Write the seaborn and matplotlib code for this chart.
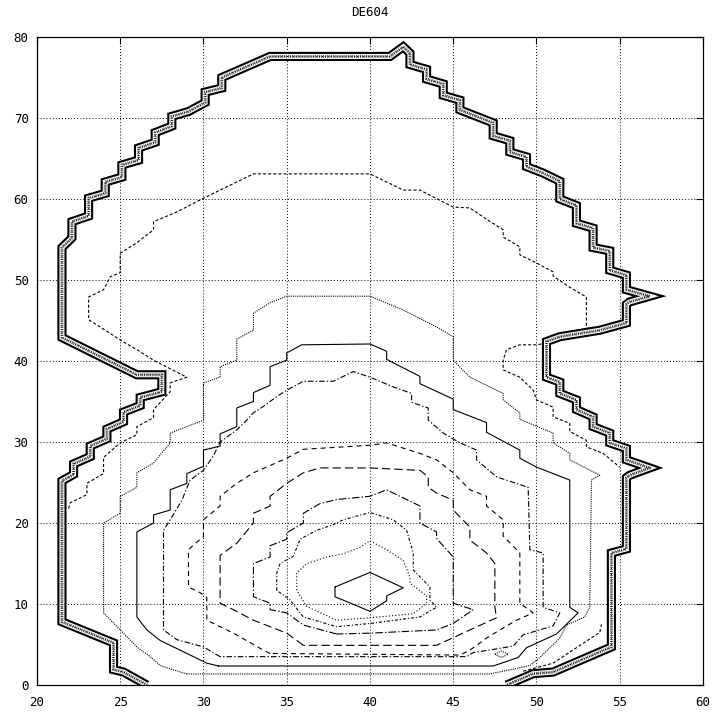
import matplotlib
matplotlib.use("Agg")
import matplotlib.pyplot as plt
import seaborn as sns

TITLE = "DE604"
X_TICKS = [20, 25, 30, 35, 40, 45, 50, 55, 60]
Y_TICKS = [0, 10, 20, 30, 40, 50, 60, 70, 80]

# outer edge of the field (steep rim, drawn as a hatched band)
EDGE_X = [26.6, 25.2, 24.6, 24.6, 21.5, 21.5,
          22.2, 22.2, 23.2, 23.2, 24.2, 24.2, 25.2, 25.2, 26.2, 26.2, 27.5, 27.5, 26.0, 21.5, 21.5,
          22.1, 22.1, 23.1, 23.1, 24.1, 24.1, 25.1, 25.1, 26.1, 26.1, 27.1, 27.1, 28.1, 28.1, 29.1,
          30.1, 30.1, 31.1, 31.1, 34.0,
          41.2, 42.0, 42.4, 42.4, 43.4, 43.4, 44.4, 44.4, 45.4, 45.4, 46.4, 47.4, 47.4, 48.4, 48.4,
          49.4, 49.4, 50.4, 51.4, 51.4, 52.4, 52.4, 53.4, 53.4, 54.4, 54.4, 55.4, 55.4, 56.8, 55.6,
          55.4, 55.4, 53.8, 51.4, 50.6,
          50.6, 51.4, 51.4, 52.4, 52.4, 53.4, 53.4, 54.4, 54.4, 55.4, 55.4, 56.8, 55.6, 55.4, 55.4,
          54.5, 54.5, 51.0, 49.8, 48.2]
EDGE_Y = [0.0, 1.6, 1.9, 5.2, 7.8, 25.2,
          26.0, 27.3, 28.2, 29.5, 30.4, 31.6, 32.5, 33.7, 34.5, 35.5, 36.2, 38.3, 38.3, 42.9, 54.0,
          55.2, 57.2, 57.9, 60.1, 60.7, 62.1, 62.7, 64.2, 64.8, 66.3, 67.0, 68.2, 69.0, 70.2, 70.8,
          71.9, 73.2, 73.7, 75.0, 77.6,
          77.6, 78.8, 78.0, 76.6, 76.0, 74.8, 74.2, 72.8, 72.2, 71.0, 70.2, 69.4, 67.8, 67.2, 65.8,
          65.2, 64.0, 63.2, 62.2, 60.0, 59.2, 57.0, 56.4, 54.0, 53.6, 51.2, 50.6, 48.8, 48.0, 47.3,
          47.0, 44.7, 43.8, 43.0, 42.4,
          38.0, 37.4, 36.0, 35.2, 34.0, 33.1, 31.9, 31.1, 29.9, 29.2, 27.8, 26.8, 25.9, 25.6, 16.8,
          16.3, 4.7, 1.6, 1.4, 0.0]

# level 1 (open pieces ending in the rim)
L1A_X = [49.2, 51.0, 53.8, 53.9]
L1A_Y = [1.7, 2.7, 6.5, 7.5]
L1B_X = [21.9, 22.0, 23.0, 23.0, 24.0, 24.0, 25.0, 26.0, 26.0, 27.0, 27.0, 28.0, 28.0, 29.0,
         27.0, 26.0, 25.0, 23.8, 23.1, 23.1, 24.0, 24.4, 25.0, 25.0, 26.0, 27.0, 27.0, 28.4,
         30.0, 33.0, 40.0, 42.0, 43.0, 45.0, 46.0, 47.0, 48.0, 48.0, 49.0, 49.0, 50.0, 51.0,
         51.0, 52.0, 53.0, 53.0, 53.2]
L1B_Y = [21.8, 22.5, 23.5, 24.9, 26.1, 28.1, 29.9, 30.9, 31.9, 33.0, 34.0, 36.2, 37.3, 38.0,
         40.1, 41.4, 42.6, 44.2, 45.1, 47.9, 48.8, 50.4, 50.9, 53.3, 54.6, 56.2, 57.2, 58.4,
         60.1, 63.1, 63.1, 61.1, 61.1, 59.0, 58.9, 57.5, 56.2, 55.3, 54.1, 53.1, 52.1, 51.0,
         50.5, 49.1, 47.9, 44.4, 43.8]
L1C_X = [50.6, 50.0, 49.0, 48.2, 48.0, 48.0, 49.0, 49.8, 50.0, 51.0, 51.0, 52.0, 52.0, 53.0,
         53.0, 54.0, 55.0]
L1C_Y = [42.2, 42.0, 42.0, 41.4, 40.1, 38.9, 38.0, 36.4, 35.2, 34.3, 33.1, 32.3, 31.3, 30.2,
         29.4, 28.6, 26.9]

# closed levels, outermost first
L2_X = [29.0, 27.4, 26.8, 26.0, 25.1, 24.0, 24.0, 25.0, 25.0, 26.0, 26.0, 27.0, 28.0, 28.0,
        29.0, 30.0, 30.0, 31.0, 31.0, 32.0, 32.0, 33.0, 33.0, 34.0, 35.0, 40.0, 42.0, 44.0,
        45.0, 45.0, 46.0, 48.0, 48.0, 49.0, 49.0, 51.0, 51.0, 52.0, 52.0, 53.8, 53.3, 53.2,
        52.9, 51.8, 51.4, 50.2, 49.6, 47.2]
L2_Y = [1.36, 2.4, 3.5, 4.7, 6.6, 8.9, 20.0, 21.2, 23.3, 24.4, 26.2, 27.4, 29.9, 31.1,
        31.9, 32.7, 37.3, 38.0, 39.3, 40.1, 42.7, 43.8, 45.9, 47.2, 48.0, 48.0, 46.3, 44.2,
        43.0, 40.1, 38.0, 36.0, 35.2, 33.6, 32.8, 31.1, 29.9, 28.6, 27.8, 25.9, 25.3, 9.6,
        8.4, 7.4, 5.8, 3.4, 2.4, 1.36]

L3_X = [30.9, 30.2, 27.4, 26.6, 26.0, 26.0, 27.0, 27.0, 28.0, 28.0, 29.0, 29.0, 30.0, 30.0,
        31.0, 31.0, 32.0, 32.0, 33.0, 33.0, 34.0, 34.0, 35.0, 35.0, 35.9, 40.0, 41.0, 41.0,
        43.0, 43.0, 45.0, 45.0, 47.0, 47.0, 49.0, 49.0, 50.0, 52.0, 52.0, 52.5, 51.2, 49.4,
        48.9, 47.4]
L3_Y = [2.35, 2.7, 5.5, 6.8, 8.4, 18.9, 20.0, 21.0, 21.6, 24.1, 24.9, 26.1, 27.0, 29.0,
        29.5, 31.0, 31.9, 34.2, 35.0, 36.1, 37.0, 39.3, 40.1, 41.0, 42.0, 42.1, 41.2, 40.2,
        38.1, 37.2, 35.3, 34.0, 32.4, 31.2, 29.0, 28.0, 26.9, 25.3, 9.6, 8.9, 6.3, 4.6,
        3.4, 2.35]

L4_X = [31.0, 30.0, 28.4, 27.6, 27.6, 28.0, 28.7, 29.2, 30.0, 30.6, 31.0, 32.0, 32.6, 33.0,
        33.6, 34.4, 35.0, 36.0, 37.8, 39.0, 40.0, 41.4, 42.5, 42.5, 43.5, 43.5, 44.4, 45.4,
        46.4, 46.4, 47.6, 49.5, 49.6, 50.4, 50.4, 51.4, 51.0, 49.2, 48.6, 46.2, 45.8]
L4_Y = [3.5, 4.7, 5.6, 6.8, 19.1, 20.4, 22.8, 25.3, 26.5, 28.3, 30.0, 31.5, 32.7, 33.6,
        34.4, 35.6, 36.4, 37.5, 37.5, 38.7, 38.0, 36.8, 36.0, 34.9, 34.2, 32.7, 31.1, 29.9,
        29.0, 27.8, 25.7, 24.4, 16.7, 16.3, 9.6, 8.9, 7.3, 6.2, 4.8, 4.0, 3.5]

L5_X = [34.0, 33.6, 31.8, 30.2, 30.2, 29.8, 29.1, 29.1, 29.4, 30.0, 30.0, 31.0, 31.0, 32.0,
        33.0, 35.0, 36.0, 40.0, 41.0, 41.6, 43.0, 44.0, 45.0, 46.0, 47.0, 47.0, 48.0, 48.0,
        49.0, 49.0, 49.8, 48.8, 47.8, 47.0, 46.0, 45.4]
L5_Y = [3.9, 4.3, 6.4, 8.0, 10.8, 11.4, 12.1, 16.7, 17.3, 18.3, 20.4, 22.1, 23.3, 24.9,
        26.2, 28.0, 29.1, 29.6, 29.9, 29.5, 28.6, 27.8, 26.2, 24.1, 23.3, 22.1, 20.4, 18.4,
        16.3, 10.1, 8.9, 8.0, 6.8, 5.8, 4.3, 3.7]
# tiny closed ring near the bottom of level 5
L5_RING_X = [47.5, 47.9, 48.3, 47.9]
L5_RING_Y = [3.8, 4.2, 3.8, 3.4]

L6_X = [36.0, 35.0, 34.0, 33.0, 31.8, 31.0, 31.0, 32.0, 33.0, 33.0, 34.0, 34.0, 35.0, 36.0,
        37.0, 40.0, 43.0, 43.5, 43.5, 44.0, 45.0, 45.0, 46.0, 46.0, 47.0, 47.5, 47.5, 47.6,
        46.0, 44.0]
L6_Y = [4.9, 6.4, 7.2, 8.0, 9.3, 10.1, 16.0, 17.5, 20.0, 21.2, 22.1, 23.3, 24.9, 26.2,
        26.8, 26.8, 26.5, 25.7, 24.4, 23.7, 22.8, 21.6, 19.5, 17.9, 16.3, 15.0, 9.6, 8.3,
        6.8, 4.9]

L7_X = [38.0, 36.0, 35.0, 34.0, 34.0, 33.0, 33.0, 34.0, 34.0, 35.0, 35.0, 36.0, 36.0, 37.0,
        38.0, 40.0, 41.0, 43.0, 43.0, 44.0, 44.0, 45.0, 45.0, 46.2, 45.0, 44.0, 40.0]
L7_Y = [6.3, 7.4, 8.9, 9.3, 10.1, 10.9, 15.0, 15.8, 17.2, 18.0, 18.8, 20.0, 21.2, 22.4,
        22.9, 23.3, 24.1, 22.1, 20.0, 18.9, 18.1, 15.8, 10.1, 9.3, 7.6, 6.8, 6.4]

L8_X = [34.4, 34.4, 34.6, 35.4, 35.8, 36.8, 37.8, 38.4, 40.0, 41.4, 42.2, 42.6, 42.6, 43.6,
        43.6, 44.0, 43.0, 40.0, 38.0, 36.0, 35.2]
L8_Y = [11.7, 13.8, 15.0, 15.9, 18.0, 19.1, 19.8, 20.4, 21.3, 20.4, 19.1, 16.3, 14.2, 12.1,
        10.5, 9.6, 8.4, 7.6, 7.2, 8.4, 10.5]

L9_X = [35.6, 35.6, 36.2, 37.4, 38.4, 39.4, 40.0, 41.0, 42.0, 42.4, 42.4, 43.4, 43.4, 42.6,
        40.0, 38.0, 36.2]
L9_Y = [11.7, 13.8, 15.0, 15.8, 16.2, 17.0, 17.8, 16.7, 15.4, 13.3, 12.6, 11.0, 10.1, 8.8,
        8.3, 8.0, 9.7]

L10_X = [37.9, 40.0, 42.0, 41.0, 41.0, 40.0, 37.9]
L10_Y = [12.1, 13.9, 12.0, 11.0, 10.4, 9.1, 10.9]

# line patterns (points)
DOTS_FINE = (0, (0.8, 0.8))
DOTS = (0, (0.8, 1.5))
SHORT_DASH = (0, (2.2, 1.5))
DASH = (0, (3.6, 2.9))
LONG_DASH = (0, (6.0, 2.9))
DASH_DOT = (0, (4.0, 1.5, 1.0, 1.5))
LONG_DASH_DOT = (0, (5.5, 1.5, 1.0, 1.5))
SHORT_DASH_DOT = (0, (2.2, 1.4, 0.8, 1.4))

sns.set_style("white")
plt.rcParams["lines.scale_dashes"] = False
plt.rcParams["font.family"] = ["DejaVu Sans Mono", "DejaVu Sans"]

fig = plt.figure(figsize=(7.15, 7.17), dpi=100)
ax = fig.add_axes([0.0517, 0.0446, 0.9315, 0.9038])


def trace(xs, ys, style, closed=True, lw=0.8, color="black", **kw):
    xs = list(xs)
    ys = list(ys)
    if closed:
        xs.append(xs[0])
        ys.append(ys[0])
    sns.lineplot(x=xs, y=ys, sort=False, estimator=None, ax=ax, color=color,
                 linestyle=style, lw=lw, **kw)


# hatched rim: dark band, light core, grainy centre
trace(EDGE_X, EDGE_Y, "-", closed=False, lw=6.6, solid_joinstyle="miter",
      solid_capstyle="butt", zorder=3)
trace(EDGE_X, EDGE_Y, "-", closed=False, lw=3.6, color="white",
      solid_joinstyle="miter", solid_capstyle="butt", zorder=4)
trace(EDGE_X, EDGE_Y, (0, (0.7, 0.7)), closed=False, lw=2.2, color="#555555",
      zorder=5)
trace(EDGE_X, EDGE_Y, (0.7, (0.7, 1.4)), closed=False, lw=0.8, zorder=6)

trace(L1A_X, L1A_Y, SHORT_DASH, closed=False)
trace(L1B_X, L1B_Y, SHORT_DASH, closed=False)
trace(L1C_X, L1C_Y, SHORT_DASH, closed=False)
trace(L2_X, L2_Y, DOTS_FINE)
trace(L3_X, L3_Y, "-")
trace(L4_X, L4_Y, DASH_DOT)
trace(L5_X, L5_Y, DASH)
trace(L5_RING_X, L5_RING_Y, DOTS_FINE)
trace(L6_X, L6_Y, LONG_DASH)
trace(L7_X, L7_Y, LONG_DASH_DOT)
trace(L8_X, L8_Y, SHORT_DASH_DOT)
trace(L9_X, L9_Y, DOTS)
trace(L10_X, L10_Y, "-")

ax.set_xlim(X_TICKS[0], X_TICKS[-1])
ax.set_ylim(Y_TICKS[0], Y_TICKS[-1])
ax.set_xticks(X_TICKS)
ax.set_yticks(Y_TICKS)
ax.set_xticklabels([str(v) for v in X_TICKS])
ax.set_yticklabels([str(v) for v in Y_TICKS])
ax.tick_params(direction="in", length=5, width=0.8, top=True, right=True,
               labelsize=9, colors="black")
ax.tick_params(axis="x", pad=8)
ax.tick_params(axis="y", pad=6)
ax.grid(True, color="black", linestyle=(0, (0.7, 1.5)), lw=0.7)
ax.set_axisbelow(True)
for s in ax.spines.values():
    s.set_color("black")
    s.set_linewidth(0.9)
ax.set_xlabel("")
ax.set_ylabel("")
ax.set_title(TITLE, fontsize=9, pad=15, color="black")

fig.savefig("out.png", dpi=100, facecolor="white")
